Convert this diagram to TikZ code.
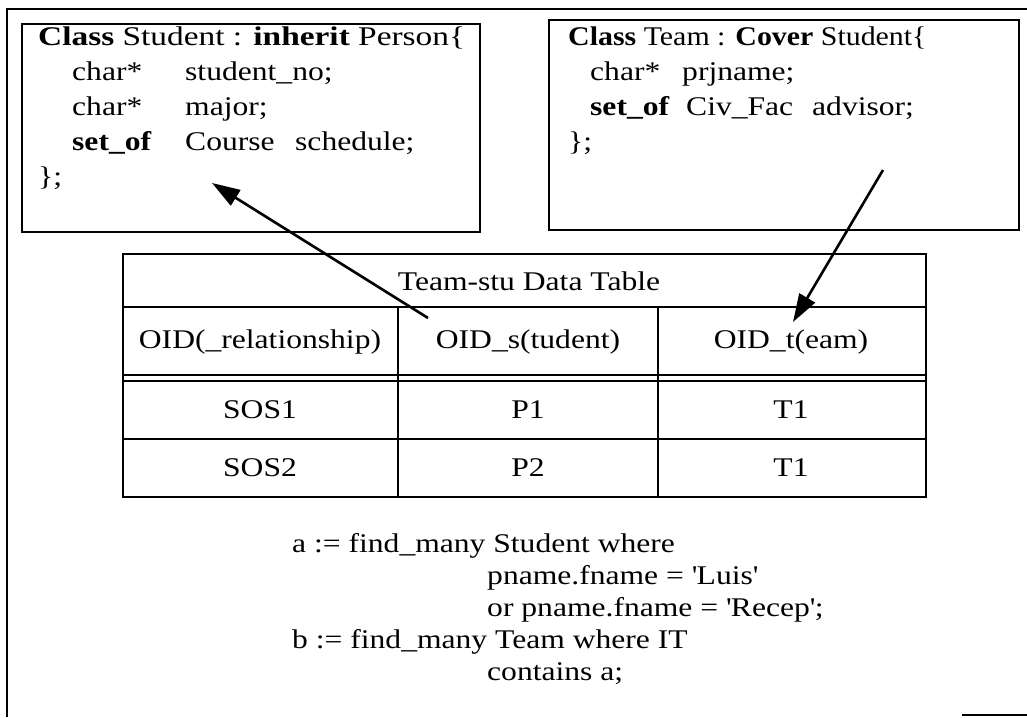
\documentclass[tikz,border=0pt]{standalone}
\usepackage{fontspec}
\usepackage{graphicx}
\setmainfont{Liberation Serif}[FakeStretch=1.17]
\usetikzlibrary{arrows.meta}
\newcommand{\hsc}[2]{\scalebox{#1}[1]{#2}}
\newcommand{\sq}{\textquotesingle}
\begin{document}
\begin{tikzpicture}[x=1pt,y=-1pt]
\tikzset{
  frame/.style={line width=1.6pt},
  classbox/.style={draw, line width=1.8pt, inner sep=0pt},
  code/.style={anchor=mid west, inner sep=0pt, font=\fontsize{27}{31}\selectfont},
  cell/.style={inner sep=0pt, font=\fontsize{27}{31}\selectfont},
  grid/.style={line width=1.8pt},
  ref/.style={-{Triangle[length=28pt,width=18pt]}, line width=2.6pt},
}
\path[use as bounding box] (0,0) rectangle (1027,717);

% page frame
\draw[frame] (1027,9) -- (7,9) -- (7,717);
\draw[frame] (962,715) -- (1027,715);

% class Student
\node[classbox, minimum width=458pt, minimum height=208pt] (student) at (251,128) {};
\node[code] (s1)  at (38,43)   {\hsc{1.057}{\textbf{Class} Student : \textbf{inherit} Person\{}};
\node[code] (s2)  at (72,78)   {char*};
\node[code] (s2b) at (185,78)  {student\_no;};
\node[code] (s3)  at (72,113)  {char*};
\node[code] (s3b) at (185,113) {major;};
\node[code] (s4)  at (72,148)  {\textbf{set\_of}};
\node[code] (s4b) at (185,148) {Course};
\node[code] (s4c) at (295,148) {schedule;};
\node[code] (s5)  at (38,183)  {\};};

% class Team
\node[classbox, minimum width=470pt, minimum height=210pt] (team) at (784,125) {};
\node[code] (t1)  at (568,43)  {\hsc{0.946}{\textbf{Class} Team : \textbf{Cover} Student\{}};
\node[code] (t2)  at (590,78)  {char*};
\node[code] (t2b) at (682,78)  {prjname;};
\node[code] (t3)  at (590,113) {\textbf{set\_of}};
\node[code] (t3b) at (686,113) {Civ\_Fac};
\node[code] (t3c) at (812,113) {advisor;};
\node[code] (t4)  at (568,148) {\};};

% relationship table
\node[draw, grid, inner sep=0pt, minimum width=803pt, minimum height=243pt] (tbl) at (524.5,375.5) {};
\draw[line width=2.4pt] (123,307) -- (926,307);
\draw[grid] (123,375) -- (926,375);
\draw[grid] (123,381) -- (926,381);
\draw[grid] (123,439) -- (926,439);
\draw[grid] (398,307) -- (398,497);
\draw[grid] (658,307) -- (658,497);

\node[cell] (title) at (529,281) {Team-stu Data Table};
\node[cell] (h1) at (260,342) {OID(\_relationship)};
\node[cell] (h2) at (528,342) {OID\_s(tudent)};
\node[cell] (h3) at (791,342) {OID\_t(eam)};
\node[cell] (r11) at (260,410) {SOS1};
\node[cell] (r12) at (528,410) {P1};
\node[cell] (r13) at (791,410) {T1};
\node[cell] (r21) at (260,468) {SOS2};
\node[cell] (r22) at (528,468) {P2};
\node[cell] (r23) at (791,468) {T1};

% references from the table columns to the classes
\coordinate (sref) at (428,318);
\coordinate (course) at (212,183);
\coordinate (tsrc) at (883,170);
\coordinate (tref) at (793,322);
\draw[ref] (sref) -- (course);
\draw[ref] (tsrc) -- (tref);

% query
\node[code] (q1) at (292,550) {a := find\_many Student where};
\node[code] (q2) at (487,582) {pname.fname = \sq Luis\sq};
\node[code] (q3) at (487,614) {or pname.fname = \sq Recep\sq;};
\node[code] (q4) at (292,646) {b := find\_many Team where IT};
\node[code] (q5) at (487,678) {contains a;};
\end{tikzpicture}
\end{document}
